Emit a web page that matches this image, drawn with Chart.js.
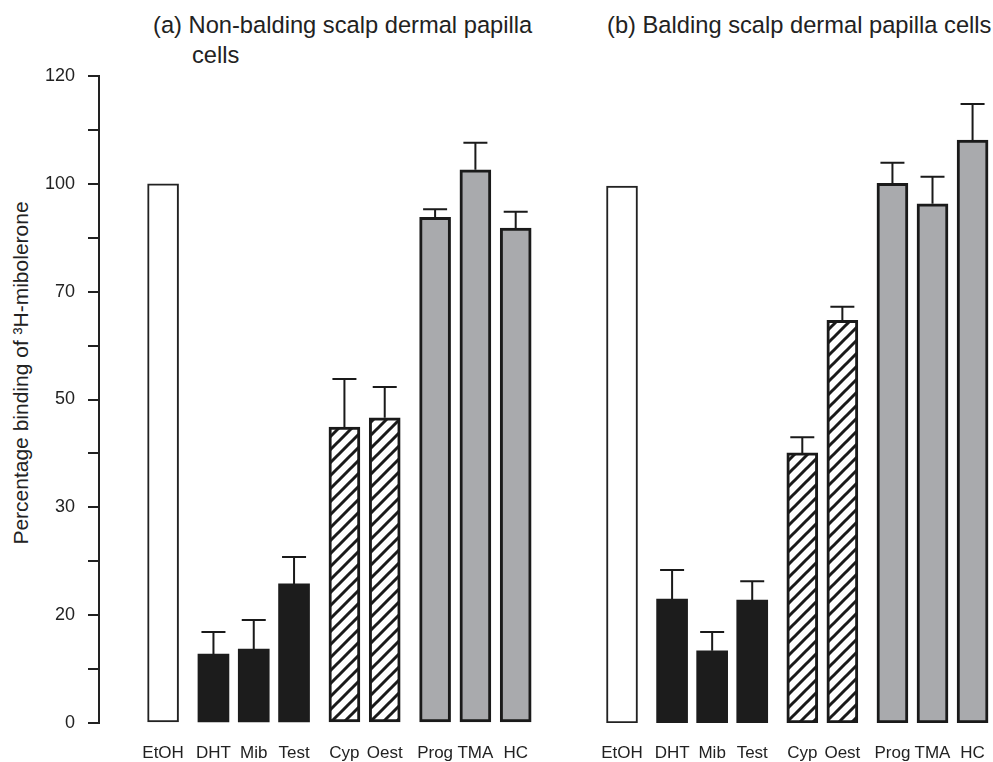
<!DOCTYPE html>
<html>
<head>
<meta charset="utf-8">
<script src="https://cdn.jsdelivr.net/npm/chart.js@4.4.1/dist/chart.umd.min.js"></script>
<style>
  html, body { margin: 0; padding: 0; background: #fff; overflow: hidden; }
  body { width: 993px; height: 762px; position: relative; font-family: "Liberation Sans", Arial, sans-serif; color: #222; }
  canvas { position: absolute; top: 0; }
  #cA { left: 0; }
  #cB { left: 560px; }
  .ttl { position: absolute; font-size: 23.7px; line-height: 30px; white-space: nowrap; }
  #ytitle { position: absolute; width: 400px; left: -179px; top: 361px; height: 24px; line-height: 24px;
            font-size: 21px; text-align: center; transform: rotate(-90deg); transform-origin: 200px 12px; white-space: nowrap; }
</style>
</head>
<body>
<div class="ttl" style="left:153px; top:10px;">(a) Non-balding scalp dermal papilla</div>
<div class="ttl" style="left:192px; top:40px;">cells</div>
<div class="ttl" style="left:607px; top:10px;">(b) Balding scalp dermal papilla cells</div>
<div id="ytitle">Percentage binding of ³H-mibolerone</div>
<canvas id="cA" width="560" height="762"></canvas>
<canvas id="cB" width="433" height="762"></canvas>
<script>
// ---- data ----
const categories = ['EtOH', 'DHT', 'Mib', 'Test', 'Cyp', 'Oest', 'Prog', 'TMA', 'HC'];
const groups     = [0, 1, 1, 1, 2, 2, 3, 3, 3];
const yTickLabels = ['0', '20', '30', '50', '70', '100', '120'];
const valuesA = [100.0, 12.8, 13.7, 25.8, 54.9, 56.6, 93.8, 102.6, 91.8];
const errorsA = [0, 4.1, 5.4, 5.0, 8.9, 5.7, 1.5, 5.0, 3.0];
const valuesB = [99.6, 23.0, 13.4, 22.8, 50.1, 74.7, 100.1, 96.3, 108.1];
const errorsB = [0, 5.4, 3.5, 3.5, 2.9, 2.5, 3.8, 5.0, 6.7];

// ---- layout/style ----
Chart.defaults.font.family = '"Liberation Sans", Arial, sans-serif';
Chart.defaults.color = '#222';
const GROUP_GAP = 0.25;
const xPos = categories.map((c, i) => i + groups[i] * GROUP_GAP);

function hatch() {
  const s = 13, c = document.createElement('canvas');
  c.width = s; c.height = s;
  const g = c.getContext('2d');
  g.fillStyle = '#fff'; g.fillRect(0, 0, s, s);
  g.strokeStyle = '#1a1a1a'; g.lineWidth = 3; g.lineCap = 'square';
  g.beginPath();
  g.moveTo(-3, 3); g.lineTo(3, -3);
  g.moveTo(0, s); g.lineTo(s, 0);
  g.moveTo(s - 3, s + 3); g.lineTo(s + 3, s - 3);
  g.stroke();
  return g.createPattern(c, 'repeat');
}
const pattern = hatch();
const fillByGroup   = ['#ffffff', '#1c1c1c', pattern, '#a9aaad'];
const borderByGroup = ['#222222', '#1c1c1c', '#1a1a1a', '#1a1a1a'];
const bwByGroup     = [2, 0, 3, 3];

const errorBars = {
  id: 'errorBars',
  afterDatasetsDraw(chart, args, opts) {
    const ctx = chart.ctx, meta = chart.getDatasetMeta(0), yS = chart.scales.y;
    const data = chart.data.datasets[0].data;
    ctx.save();
    ctx.strokeStyle = '#1a1a1a'; ctx.lineWidth = 2;
    meta.data.forEach((bar, i) => {
      const e = opts.errors[i];
      if (!e) return;
      const yTop = yS.getPixelForValue(data[i].y + e);
      ctx.beginPath();
      ctx.moveTo(bar.x, bar.y); ctx.lineTo(bar.x, yTop);
      ctx.moveTo(bar.x - 12, yTop); ctx.lineTo(bar.x + 12, yTop);
      ctx.stroke();
    });
    ctx.restore();
  }
};

function makeChart(id, values, errors, xmin, xmax, showY, padLeft, padRight) {
  return new Chart(document.getElementById(id), {
    type: 'bar',
    data: {
      datasets: [{
        data: values.map((v, i) => ({ x: xPos[i], y: v })),
        backgroundColor: groups.map(g => fillByGroup[g]),
        borderColor: groups.map(g => borderByGroup[g]),
        borderWidth: groups.map(g => bwByGroup[g]),
        borderSkipped: false,
        barThickness: 31
      }]
    },
    options: {
      responsive: false,
      animation: false,
      devicePixelRatio: 1,
      layout: { padding: { top: 76, bottom: 0, left: padLeft, right: padRight } },
      plugins: {
        legend: { display: false },
        tooltip: { enabled: false },
        errorBars: { errors: errors }
      },
      scales: {
        x: {
          type: 'linear',
          min: xmin, max: xmax,
          offset: false,
          grid: { display: false, drawTicks: false },
          border: { display: false },
          afterBuildTicks: (s) => { s.ticks = xPos.map(v => ({ value: v })); },
          afterFit: (s) => { s.height = 39; s.paddingLeft = 0; s.paddingRight = 0; },
          ticks: {
            autoSkip: false, maxRotation: 0, padding: 20,
            font: { size: 17 }, color: '#222',
            callback: (v, i) => categories[i]
          }
        },
        y: {
          display: showY,
          min: 0, max: 120,
          afterFit: (s) => { if (showY) s.width = 99; },
          grid: { drawOnChartArea: false, drawTicks: true, tickLength: 11, lineWidth: 2, color: '#222' },
          border: { display: true, width: 2, color: '#222' },
          ticks: {
            stepSize: 10, padding: 13, font: { size: 18 }, color: '#222',
            callback: (v) => (v % 20 === 0 ? yTickLabels[v / 20] : '')
          }
        }
      }
    },
    plugins: [errorBars]
  });
}

makeChart('cA', valuesA, errorsA, -1.59, 9.75, true, 0, 4);
makeChart('cB', valuesB, errorsB, -1.548, 9.26, false, 0, 0);
</script>
</body>
</html>
